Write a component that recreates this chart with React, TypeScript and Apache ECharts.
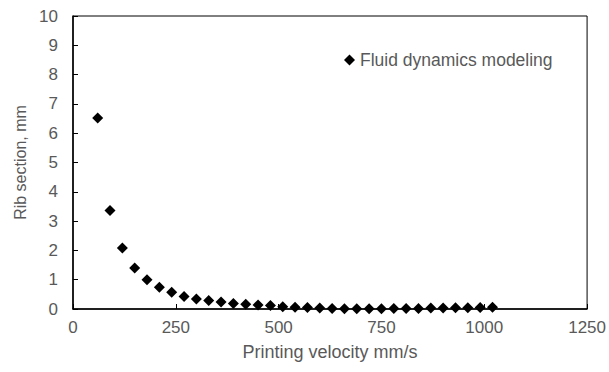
import React, { useEffect, useRef } from "react";
import * as echarts from "echarts";

const velocities = [60, 90, 120, 150, 180, 210, 240, 270, 300, 330, 360, 390, 420, 450, 480, 510, 540, 570, 600, 630, 660, 690, 720, 750, 780, 810, 840, 870, 900, 930, 960, 990, 1020];
const ribSection = [6.52, 3.36, 2.08, 1.4, 1.0, 0.74, 0.57, 0.43, 0.34, 0.29, 0.24, 0.19, 0.16, 0.14, 0.12, 0.08, 0.06, 0.05, 0.03, 0.02, 0.01, 0.01, 0.01, 0.01, 0.02, 0.02, 0.02, 0.03, 0.03, 0.04, 0.04, 0.05, 0.06];
const seriesName = "Fluid dynamics modeling";
const xAxisTitle = "Printing velocity mm/s";
const yAxisTitle = "Rib section, mm";

export default function App() {
  const ref = useRef<HTMLDivElement>(null);
  useEffect(() => {
    if (!ref.current) return;
    const chart = echarts.init(ref.current, null, { renderer: "svg" });
    const font = "'Liberation Sans', Arial, sans-serif";
    chart.setOption({
      animation: false,
      textStyle: { fontFamily: font },
      grid: { left: 73, top: 16, right: 21, bottom: 63, show: true, borderColor: "#000", borderWidth: 1, backgroundColor: "transparent" },
      legend: {
        data: [{ name: seriesName, icon: "diamond", itemStyle: { color: "#000", opacity: 1 } }],
        left: 339,
        top: 46,
        itemWidth: 11,
        itemHeight: 11,
        itemGap: 4,
        textStyle: { color: "#595959", fontSize: 17.5, fontFamily: font },
      },
      xAxis: {
        type: "value",
        min: 0,
        max: 1250,
        interval: 250,
        name: xAxisTitle,
        nameLocation: "middle",
        nameGap: 34,
        nameTextStyle: { color: "#595959", fontSize: 18, fontFamily: font },
        axisLine: { lineStyle: { color: "#000", width: 1.5 } },
        axisTick: { show: true, inside: true, length: 5, lineStyle: { color: "#000" } },
        axisLabel: { color: "#595959", fontSize: 17, margin: 10, fontFamily: font, formatter: (v: number) => String(v) },
        splitLine: { show: false },
      },
      yAxis: {
        type: "value",
        min: 0,
        max: 10,
        interval: 1,
        name: yAxisTitle,
        nameLocation: "middle",
        nameGap: 42,
        nameTextStyle: { color: "#595959", fontSize: 16, fontFamily: font },
        axisLine: { show: true, lineStyle: { color: "#000", width: 1.5 } },
        axisTick: { show: true, inside: true, length: 5, lineStyle: { color: "#000" } },
        axisLabel: { color: "#595959", fontSize: 17, margin: 15, fontFamily: font },
        splitLine: { show: false },
      },
      series: [
        {
          name: seriesName,
          type: "scatter",
          symbol: "diamond",
          symbolSize: 11,
          itemStyle: { color: "#000", opacity: 1 },
          data: velocities.map((v, i) => [v, ribSection[i]]),
        },
      ],
    });
    return () => chart.dispose();
  }, []);
  return <div ref={ref} style={{ width: 609, height: 372, position: "absolute", left: 0, top: 0 }} />;
}
